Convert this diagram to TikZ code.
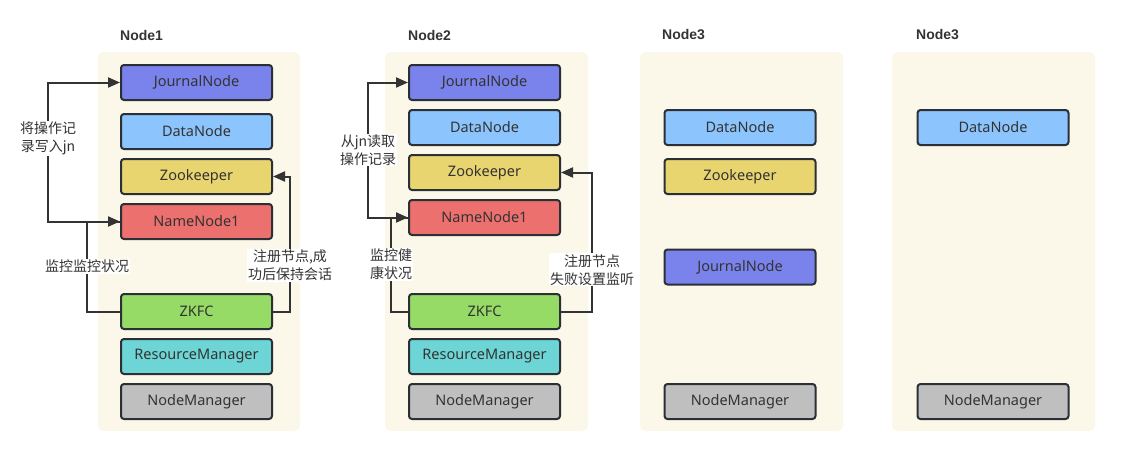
\documentclass[tikz,border=0pt]{standalone}
\usepackage{fontspec}
\setmainfont{Noto Sans}
\newfontfamily\cjk{Noto Sans CJK SC}
\newfontfamily\titlefont{Liberation Sans}
\usetikzlibrary{arrows.meta,positioning}
\definecolor{jnColor}{HTML}{7A83EB}
\definecolor{dnColor}{HTML}{8CC4FD}
\definecolor{zkColor}{HTML}{E8D56F}
\definecolor{nnColor}{HTML}{EC706E}
\definecolor{zkfcColor}{HTML}{97DB67}
\definecolor{rmColor}{HTML}{6DD5D5}
\definecolor{nmColor}{HTML}{BFBFBF}
\definecolor{hostColor}{HTML}{FBF8EA}
\definecolor{boxLine}{HTML}{2B3036}
\definecolor{lineColor}{HTML}{333333}
\definecolor{textColor}{HTML}{333333}
\tikzset{
	role/.style={draw=boxLine, line width=2pt, rounded corners=3pt, minimum width=151pt,
		minimum height=35pt, inner sep=0pt, text=textColor, font=\fontsize{14.5}{17}\selectfont},
	host/.style={fill=hostColor, rounded corners=5pt},
	title/.style={anchor=west, inner sep=0pt, text=textColor, font=\titlefont\bfseries\fontsize{14}{17}\selectfont},
	flow/.style={-{Triangle[length=12pt,width=10pt]}, line width=2pt, draw=lineColor},
	tag/.style={fill=white, align=center, inner sep=1pt, text=textColor, font=\cjk\fontsize{14}{18}\selectfont}
}

\begin{document}
\begin{tikzpicture}[x=1pt, y=-1pt]
	\useasboundingbox (0,0) rectangle (1121,450);
	
	% hosts
	\fill[host] (98,52) rectangle (300,431);
	\fill[host] (385,52) rectangle (588,431);
	\fill[host] (640,52) rectangle (843,431);
	\fill[host] (892,52) rectangle (1095,431);
	
	\node[title] (h1) at (120,35) {Node1};
	\node[title] (h2) at (408,35) {Node2};
	\node[title] (h3) at (662,35) {Node3};
	\node[title] (h4) at (916,35) {Node3};
	
	% Node1
	\node[role, fill=jnColor] (jn1) at (196.5,82.5) {JournalNode};
	\node[role, fill=dnColor] (dn1) at (196.5,131.5) {DataNode};
	\node[role, fill=zkColor] (zk1) at (196.5,176.5) {Zookeeper};
	\node[role, fill=nnColor] (nn1) at (196.5,221.5) {NameNode1};
	\node[role, fill=zkfcColor] (zkfc1) at (196.5,311.5) {ZKFC};
	\node[role, fill=rmColor] (rm1) at (196.5,356.5) {ResourceManager};
	\node[role, fill=nmColor] (nm1) at (196.5,401.5) {NodeManager};
	
	\draw[flow] (nn1.west) -- ++(-72,0) |- node[tag, pos=.3] {将操作记\\录写入jn} (jn1.west);
	\draw[flow] (zkfc1.west) -- ++(-33,0) |- node[tag, pos=.25] {监控监控状况} (nn1.west);
	\draw[flow] (zkfc1.east) -- ++(17,0) |- node[tag, pos=.17] {注册节点,成\\功后保持会话} (zk1.east);
	
	% Node2
	\node[role, fill=jnColor] (jn2) at (484.5,82.5) {JournalNode};
	\node[role, fill=dnColor] (dn2) at (484.5,127.5) {DataNode};
	\node[role, fill=zkColor] (zk2) at (484.5,172.5) {Zookeeper};
	\node[role, fill=nnColor] (nn2) at (484.5,217.5) {NameNode1};
	\node[role, fill=zkfcColor] (zkfc2) at (484.5,311.5) {ZKFC};
	\node[role, fill=rmColor] (rm2) at (484.5,356.5) {ResourceManager};
	\node[role, fill=nmColor] (nm2) at (484.5,401.5) {NodeManager};
	
	\draw[flow] (nn2.west) -- ++(-40,0) |- node[tag, pos=.25] {从jn读取\\操作记录} (jn2.west);
	\draw[flow] (zkfc2.west) -- ++(-17,0) |- node[tag, pos=.25] {监控健\\康状况} (nn2.west);
	\draw[flow] (zkfc2.east) -- ++(31,0) |- node[tag, pos=.15] {注册节点\\失败设置监听} (zk2.east);
	
	% Node3
	\node[role, fill=dnColor] (dn3) at (740,127.5) {DataNode};
	\node[role, fill=zkColor] (zk3) at (740,176.5) {Zookeeper};
	\node[role, fill=jnColor] (jn3) at (740,267) {JournalNode};
	\node[role, fill=nmColor] (nm3) at (740,401.5) {NodeManager};
	
	% Node3 (second)
	\node[role, fill=dnColor] (dn4) at (993,127.5) {DataNode};
	\node[role, fill=nmColor] (nm4) at (993,401.5) {NodeManager};
\end{tikzpicture}
\end{document}
